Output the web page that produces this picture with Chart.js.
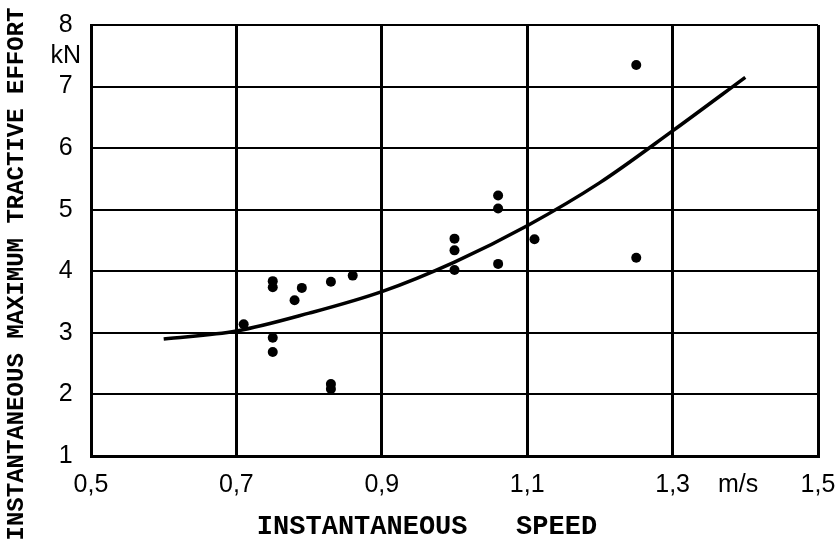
<!DOCTYPE html>
<html>
<head>
<meta charset="utf-8">
<script src="https://cdn.jsdelivr.net/npm/chart.js@4/dist/chart.umd.min.js"></script>
<style>
html,body{margin:0;padding:0;background:#fff;}
#wrap{width:838px;height:545px;}
</style>
</head>
<body>
<div id="wrap"><canvas id="c" width="838" height="545"></canvas></div>
<script>
// Measured points (speed m/s, effort kN)
const measuredSpeed  = [0.71, 0.75, 0.75, 0.75, 0.75, 0.78, 0.79, 0.83, 0.86, 0.83, 0.83, 1.00, 1.00, 1.00, 1.06, 1.06, 1.06, 1.11, 1.25, 1.25];
const measuredEffort = [3.14, 2.92, 2.69, 3.84, 3.74, 3.53, 3.73, 3.83, 3.93, 2.17, 2.09, 4.53, 4.34, 4.02, 5.23, 5.02, 4.12, 4.52, 7.35, 4.22];

// Fitted curve
const curveSpeed  = [0.60, 0.70, 0.80, 0.90, 1.00, 1.10, 1.20, 1.30, 1.40];
const curveEffort = [2.90, 3.03, 3.32, 3.67, 4.15, 4.74, 5.44, 6.28, 7.15];

// Axis ticks
const xTickValues = [0.5, 0.7, 0.9, 1.1, 1.3, 1.5];
const xTickLabels = ['0,5', '0,7', '0,9', '1,1', '1,3', '1,5'];
const yTickValues = [1, 2, 3, 4, 5, 6, 7, 8];
const yTickLabels = ['1', '2', '3', '4', '5', '6', '7', '8'];
const xUnitValue = 1.39;
const xUnitLabel = 'm/s';
const yUnitValue = 7.5;
const yUnitLabel = 'kN';

const xTitle = 'INSTANTANEOUS   SPEED';
const yTitle = 'INSTANTANEOUS MAXIMUM TRACTIVE EFFORT';

const xAllValues = xTickValues.concat([xUnitValue]);
const xAllLabels = xTickLabels.concat([xUnitLabel]);
const yAllValues = yTickValues.concat([yUnitValue]);
const yAllLabels = yTickLabels.concat([yUnitLabel]);

const scatterData = measuredSpeed.map((x, i) => ({x: x, y: measuredEffort[i]}));
const curveData = curveSpeed.map((x, i) => ({x: x, y: curveEffort[i]}));

const titlePlugin = {
  id: 'axisTitles',
  afterDraw(chart) {
    const ctx = chart.ctx;
    ctx.save();
    ctx.fillStyle = '#000';
    ctx.textAlign = 'center';
    ctx.textBaseline = 'middle';
    ctx.font = 'bold 27px "Liberation Mono"';
    ctx.fillText(xTitle, 427, 527);
    ctx.translate(17, 274);
    ctx.rotate(-Math.PI / 2);
    ctx.font = 'bold 24px "Liberation Mono"';
    ctx.fillText(yTitle, 0, 0);
    ctx.restore();
  }
};

const gridColor = (unitValue) => (c) => (c.tick && Math.abs(c.tick.value - unitValue) < 1e-6) ? 'rgba(0,0,0,0)' : '#000';

new Chart(document.getElementById('c'), {
  type: 'scatter',
  data: {
    datasets: [
      {
        label: 'curve',
        data: curveData,
        showLine: true,
        borderColor: '#000',
        borderWidth: 3.5,
        pointRadius: 0,
        cubicInterpolationMode: 'monotone',
        fill: false,
        order: 2
      },
      {
        label: 'measured',
        data: scatterData,
        showLine: false,
        pointRadius: 5,
        pointBackgroundColor: '#000',
        pointBorderColor: '#000',
        pointBorderWidth: 0,
        order: 1
      }
    ]
  },
  options: {
    responsive: false,
    devicePixelRatio: 1,
    animation: false,
    layout: {padding: {left: 0, top: 21, right: 20, bottom: 0}},
    plugins: {legend: {display: false}, tooltip: {enabled: false}},
    scales: {
      x: {
        type: 'linear',
        min: 0.5,
        max: 1.5,
        afterBuildTicks: (scale) => { scale.ticks = xAllValues.map(v => ({value: v})); },
        afterFit: (scale) => { scale.height = 89; },
        ticks: {
          autoSkip: false,
          maxRotation: 0,
          padding: 14,
          color: '#000',
          font: {family: '"Liberation Sans", Arial, sans-serif', size: 25},
          callback: (value, index) => xAllLabels[index]
        },
        grid: {color: gridColor(xUnitValue), lineWidth: 3, drawTicks: false},
        border: {display: true, color: '#000', width: 3}
      },
      y: {
        type: 'linear',
        min: 1,
        max: 8,
        afterBuildTicks: (scale) => { scale.ticks = yAllValues.map(v => ({value: v})); },
        afterFit: (scale) => { scale.width = 91; },
        ticks: {
          autoSkip: false,
          padding: 10,
          crossAlign: 'center',
          color: '#000',
          font: {family: '"Liberation Sans", Arial, sans-serif', size: 25},
          callback: (value, index) => yAllLabels[index]
        },
        grid: {color: gridColor(yUnitValue), lineWidth: 2, drawTicks: false},
        border: {display: true, color: '#000', width: 3}
      }
    }
  },
  plugins: [titlePlugin]
});
</script>
</body>
</html>
